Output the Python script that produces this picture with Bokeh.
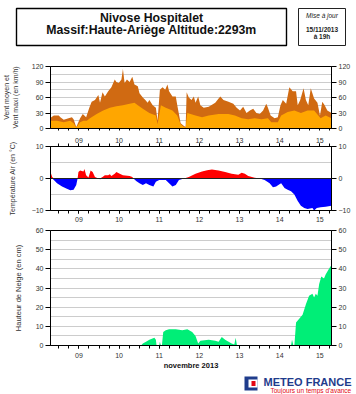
import pandas as pd
from bokeh.plotting import figure
from bokeh.layouts import column
from bokeh.models import Range1d, FixedTicker, LinearAxis, Span
from bokeh.embed import file_html
from bokeh.resources import INLINE
from bokeh.core.properties import value

FONT = "Liberation Sans"

station = "Nivose Hospitalet"
subtitle = "Massif:Haute-Ariège Altitude:2293m"
update_lines = ["Mise à jour", "15/11/2013", "à 19h"]
days = ["09", "10", "11", "12", "13", "14", "15"]
month_label = "novembre 2013"
brand = "METEO FRANCE"
tagline = "Toujours un temps d'avance"
start = pd.Timestamp("2013-11-08 19:00")
end = pd.Timestamp("2013-11-15 19:00")

# hours since 08/11 19h
wind_max_h = [0, 2.0, 4.9, 5.9, 7.9, 10.8, 12.8, 13.8, 15.4, 17.7, 19.3, 21.3, 23.2, 24.6, 26.6, 28.6, 29.6,
              31.1, 32.5, 34.5, 36.4, 38.4, 39.4, 40.8, 42.4, 43.3, 44.3, 45.7, 47.3, 48.9, 50.2, 52.2, 53.2,
              55.2, 56.7, 58.1, 59.1, 61.1, 63.0, 64.0, 65.4, 67.0, 68.6, 69.9, 70.9, 72.9, 74.9, 75.8, 77.8,
              79.8, 80.8, 81.4, 82.7, 84.3, 85.7, 86.7, 88.3, 89.6, 91.6, 94.6, 98.5, 100.5, 101.5, 103.4,
              106.4, 109.3, 111.3, 113.3, 115.2, 117.2, 119.2, 121.2, 123.1, 125.1, 127.1, 129.0, 130.0,
              131.6, 134.0, 135.9, 137.5, 138.9, 140.9, 142.8, 144.8, 146.8, 147.8, 149.3, 151.3, 152.7,
              154.1, 155.6, 157.6, 159.6, 161.1, 162.5, 163.9, 165.5, 168.0]
wind_max = [21, 25, 25, 22, 17, 20, 22, 18, 3, 20, 28, 22, 40, 52, 55, 65, 50,
            70, 62, 72, 80, 95, 90, 88, 95, 115, 88, 95, 90, 100, 85, 82, 68,
            60, 55, 50, 55, 45, 40, 15, 75, 80, 75, 85, 72, 62, 62, 45, 10,
            5, 3, 70, 60, 55, 62, 50, 62, 45, 40, 42, 50, 58, 62, 55,
            52, 48, 40, 35, 42, 30, 35, 38, 30, 28, 35, 48, 40,
            25, 20, 22, 45, 55, 48, 80, 72, 72, 45, 55, 78, 55,
            45, 78, 58, 50, 25, 52, 45, 35, 30]
wind_mean_h = [0, 3.9, 7.9, 11.8, 13.8, 15.4, 17.7, 19.7, 21.7, 23.6, 27.6, 31.5, 35.5, 39.4, 43.3, 47.3,
               50.2, 52.2, 55.2, 59.1, 63.0, 64.0, 66.0, 68.9, 72.9, 75.8, 77.8, 79.8, 80.8, 81.8, 86.7,
               90.6, 94.6, 100.5, 106.4, 110.3, 114.3, 118.2, 122.1, 126.1, 130.0, 132.0, 135.9, 137.9,
               141.8, 145.8, 149.7, 153.7, 157.6, 161.5, 164.5, 168.0]
wind_mean = [15, 15, 12, 15, 10, 2, 12, 15, 15, 20, 28, 35, 40, 43, 45, 48,
             50, 45, 38, 30, 25, 8, 45, 40, 35, 25, 8, 3, 2, 30, 25,
             22, 25, 28, 28, 25, 20, 18, 20, 18, 20, 12, 12, 25,
             32, 35, 30, 35, 35, 20, 25, 20]
temp_h = [0, 1.0, 2.0, 3.9, 6.9, 9.8, 11.8, 13.8, 15.4, 16.2, 16.7, 17.7, 19.7, 20.3, 21.3, 22.7, 24.0,
          25.2, 26.6, 28.6, 29.6, 31.1, 32.5, 34.5, 35.5, 36.4, 38.4, 39.4, 41.4, 43.3, 47.3, 48.9, 49.6,
          51.2, 53.2, 55.2, 57.1, 59.1, 61.5, 63.0, 65.0, 68.9, 70.9, 72.9, 74.9, 76.8, 79.8, 82.7, 86.7,
          90.6, 93.6, 96.5, 100.5, 104.4, 108.3, 112.3, 114.3, 116.2, 118.2, 122.1, 125.1, 128.0, 131.0,
          133.0, 134.9, 136.9, 137.9, 139.9, 141.8, 143.8, 145.8, 147.8, 149.7, 151.7, 153.7, 156.6,
          157.6, 159.2, 161.5, 164.5, 168.0]
temp = [2, 0.5, -0.5, -1.5, -2.5, -3.2, -3.7, -3.5, -2, 0, 2, 2.5, 2.2, 3, 1, 0.3, 2.5,
        2, 0.5, 0, -0.2, 0.5, 1, 1, 1.3, 0.8, 1.5, 2, 1.5, 1, 0.8, 0.5, 0,
        -0.8, -1.5, -2, -1.5, -2, -2.5, -1, -0.5, -0.5, -1.5, -2.5, -2, -0.5, 0, 0.5, 1.5,
        2.2, 2.6, 2.8, 2.5, 2, 1.5, 1.2, 1.8, 1.5, 0.8, 0.2, 0, -0.5, -1.5,
        -2.7, -2.5, -1.8, -1.5, -3, -3.5, -4, -5, -7, -8.5, -9.2, -9.5, -9.2,
        -10, -9.2, -9, -8.8, -8.5]
snow_h = [0, 54.2, 55.2, 57.1, 59.1, 62.1, 63.0, 63.4, 65.0, 65.4, 66.0, 66.6, 67.4, 68.9, 70.9, 74.9,
          78.8, 81.8, 84.7, 86.7, 88.3, 89.6, 94.6, 98.5, 100.5, 102.4, 104.4, 108.3, 109.9, 110.7,
          111.5, 143.8, 144.4, 145.2, 145.8, 146.8, 148.7, 150.7, 152.7, 154.6, 156.6, 157.6, 158.6,
          159.6, 160.6, 161.9, 163.5, 164.5, 166.5, 168.0]
snow = [0, 0, 1, 2, 3, 4, 3, 0, 0, 2, 0, 0, 7, 8, 8.5, 8.5,
        8, 8.5, 7, 5, 1, 2.5, 3, 2.5, 2, 4.5, 3, 1, 0.5, 4,
        0, 0, 3, 0, 0, 12, 14, 16, 21.5, 26, 27, 25, 27,
        26, 32, 36, 35, 37, 40, 42]

HOUR = pd.Timedelta(hours=1)
x_end = (end - start) / HOUR
day_pos = [int((pd.Timestamp(f"2013-11-{d} 12:00") - start) / HOUR) for d in days]
minor_pos = [int((t - start) / HOUR) for t in pd.date_range("2013-11-09 00:00", end, freq="6h")]
day_labels = dict(zip(day_pos, days))

xr = Range1d(0, x_end)
W = 356
BL, BR = 47, 25


def style_axis(ax):
    ax.major_label_text_font = FONT
    ax.major_label_text_font_size = "7px"
    ax.major_label_text_color = "#333333"
    ax.axis_line_color = "black"
    ax.major_tick_line_color = "black"
    ax.minor_tick_line_color = "black"
    ax.axis_label_text_font = FONT
    ax.axis_label_text_font_style = "normal"
    ax.axis_label_text_color = "#333333"


def x_axis(labels, out=3):
    if labels:
        ax = LinearAxis(ticker=FixedTicker(ticks=day_pos, minor_ticks=minor_pos))
        ax.major_label_overrides = day_labels
    else:
        ax = LinearAxis(ticker=FixedTicker(ticks=[], minor_ticks=minor_pos))
    style_axis(ax)
    ax.major_tick_out = out
    ax.major_tick_in = 0
    ax.minor_tick_out = out
    ax.minor_tick_in = 0
    ax.major_label_standoff = 1
    return ax


def panel(h, top, bottom, y0, y1, yticks, ygrid, ylabel, lab_size, lab_standoff):
    p = figure(width=W, height=h, x_range=xr, y_range=Range1d(y0, y1),
               toolbar_location=None, output_backend="svg",
               x_axis_location=None, y_axis_location=None,
               min_border_left=BL, min_border_right=BR, min_border_top=top, min_border_bottom=bottom,
               outline_line_color="black", outline_line_width=1)
    p.xgrid.visible = False
    p.ygrid.ticker = FixedTicker(ticks=ygrid)
    p.ygrid.grid_line_color = "#cccccc"
    yl = LinearAxis(ticker=FixedTicker(ticks=yticks), axis_label=ylabel)
    yr = LinearAxis(ticker=FixedTicker(ticks=yticks))
    p.add_layout(yl, "left")
    p.add_layout(yr, "right")
    for ax in (yl, yr):
        style_axis(ax)
        ax.major_tick_out = 5
        ax.major_tick_in = 0
        ax.major_label_standoff = 2
    yl.axis_label_text_font_size = lab_size
    yl.axis_label_standoff = lab_standoff
    return p


# header
hdr = figure(width=W, height=56, x_range=Range1d(0, W), y_range=Range1d(56, 0),
             toolbar_location=None, output_backend="svg", min_border=0,
             x_axis_location=None, y_axis_location=None, outline_line_color=None)
hdr.frame_align = False
hdr.grid.visible = False
hdr.quad(left=[16], right=[286], top=[8], bottom=[45], fill_color=None, line_color="black", line_width=1.4)
hdr.quad(left=[298], right=[345], top=[8], bottom=[45], fill_color=None, line_color="#222222", line_width=1)
hdr.text(x=[151, 151], y=[17, 29], text=[station, subtitle], text_font=value(FONT), text_font_style="bold",
         text_font_size="12.3px", text_align="center", text_baseline="middle", text_color="#111111")
hdr.text(x=[321.5], y=[15], text=[update_lines[0]], text_font=value(FONT), text_font_style="italic",
         text_font_size="6.5px", text_align="center", text_baseline="middle", text_color="#222222")
hdr.text(x=[321.5, 321.5], y=[29.3, 35.8], text=update_lines[1:], text_font=value(FONT),
         text_font_style="bold", text_font_size="6.5px", text_align="center", text_baseline="middle",
         text_color="#222222")

# wind
pw = panel(78, 10, 6, 0, 120, [0, 30, 60, 90, 120], [15, 30, 45, 60, 75, 90, 105],
           "Vent moyen et\nVent maxi (en km/h)", "7px", 10)
pw.add_layout(x_axis(False, 2), "below")
pw.varea(x=wind_max_h, y1=0, y2=wind_max, fill_color="#D06A12")
pw.varea(x=wind_mean_h, y1=0, y2=wind_mean, fill_color="#FFA600")

# temperature
pt = panel(92, 12, 16, -10, 10, [-10, 0, 10], [-5, 5], "Température Air (en °C)", "7px", 13)
pt.add_layout(x_axis(True, 3), "above")
xb = x_axis(True, 3)
xb.major_label_standoff = 3
pt.add_layout(xb, "below")
temp_pos = [max(t, 0) for t in temp]
temp_neg = [min(t, 0) for t in temp]
pt.varea(x=temp_h, y1=0, y2=temp_pos, fill_color="#FF0000")
pt.varea(x=temp_h, y1=0, y2=temp_neg, fill_color="#0000FF")
pt.add_layout(Span(location=0, dimension="width", line_color="#222222", line_width=1))

# snow
ps = panel(146, 4, 25, 0, 60, [0, 10, 20, 30, 40, 50, 60], [5, 10, 15, 20, 25, 30, 35, 40, 45, 50, 55],
           "Hauteur de Neige (en cm)", "7.5px", 10)
xs = x_axis(True, 3)
xs.major_label_standoff = 4
xs.axis_label = month_label
xs.axis_label_text_font_style = "bold"
xs.axis_label_text_font_size = "7.5px"
xs.axis_label_text_color = "#111111"
xs.axis_label_standoff = 0
ps.add_layout(xs, "below")
ps.varea(x=snow_h, y1=0, y2=snow, fill_color="#00EE77")

# logo
lg = figure(width=W, height=22, x_range=Range1d(0, W), y_range=Range1d(22, 0),
            toolbar_location=None, output_backend="svg", min_border=0,
            x_axis_location=None, y_axis_location=None, outline_line_color=None)
lg.frame_align = False
lg.grid.visible = False
lg.quad(left=[244], right=[257], top=[4], bottom=[18], fill_color="#1F3C8C", line_color=None)
lg.quad(left=[248], right=[257], top=[7], bottom=[15], fill_color="white", line_color=None)
lg.quad(left=[251], right=[255], top=[8.5], bottom=[13.5], fill_color="#E30613", line_color=None)
lg.text(x=[263], y=[9], text=[brand], text_font=value(FONT), text_font_style="bold",
        text_font_size="11px", text_align="left", text_baseline="middle", text_color="#1F3C8C")
lg.text(x=[270], y=[17.5], text=[tagline], text_font=value(FONT), text_font_size="6.5px",
        text_align="left", text_baseline="middle", text_color="#E30613")

layout = column(hdr, pw, pt, ps, lg, spacing=0)
open("out.html", "w").write(file_html(layout, INLINE))
